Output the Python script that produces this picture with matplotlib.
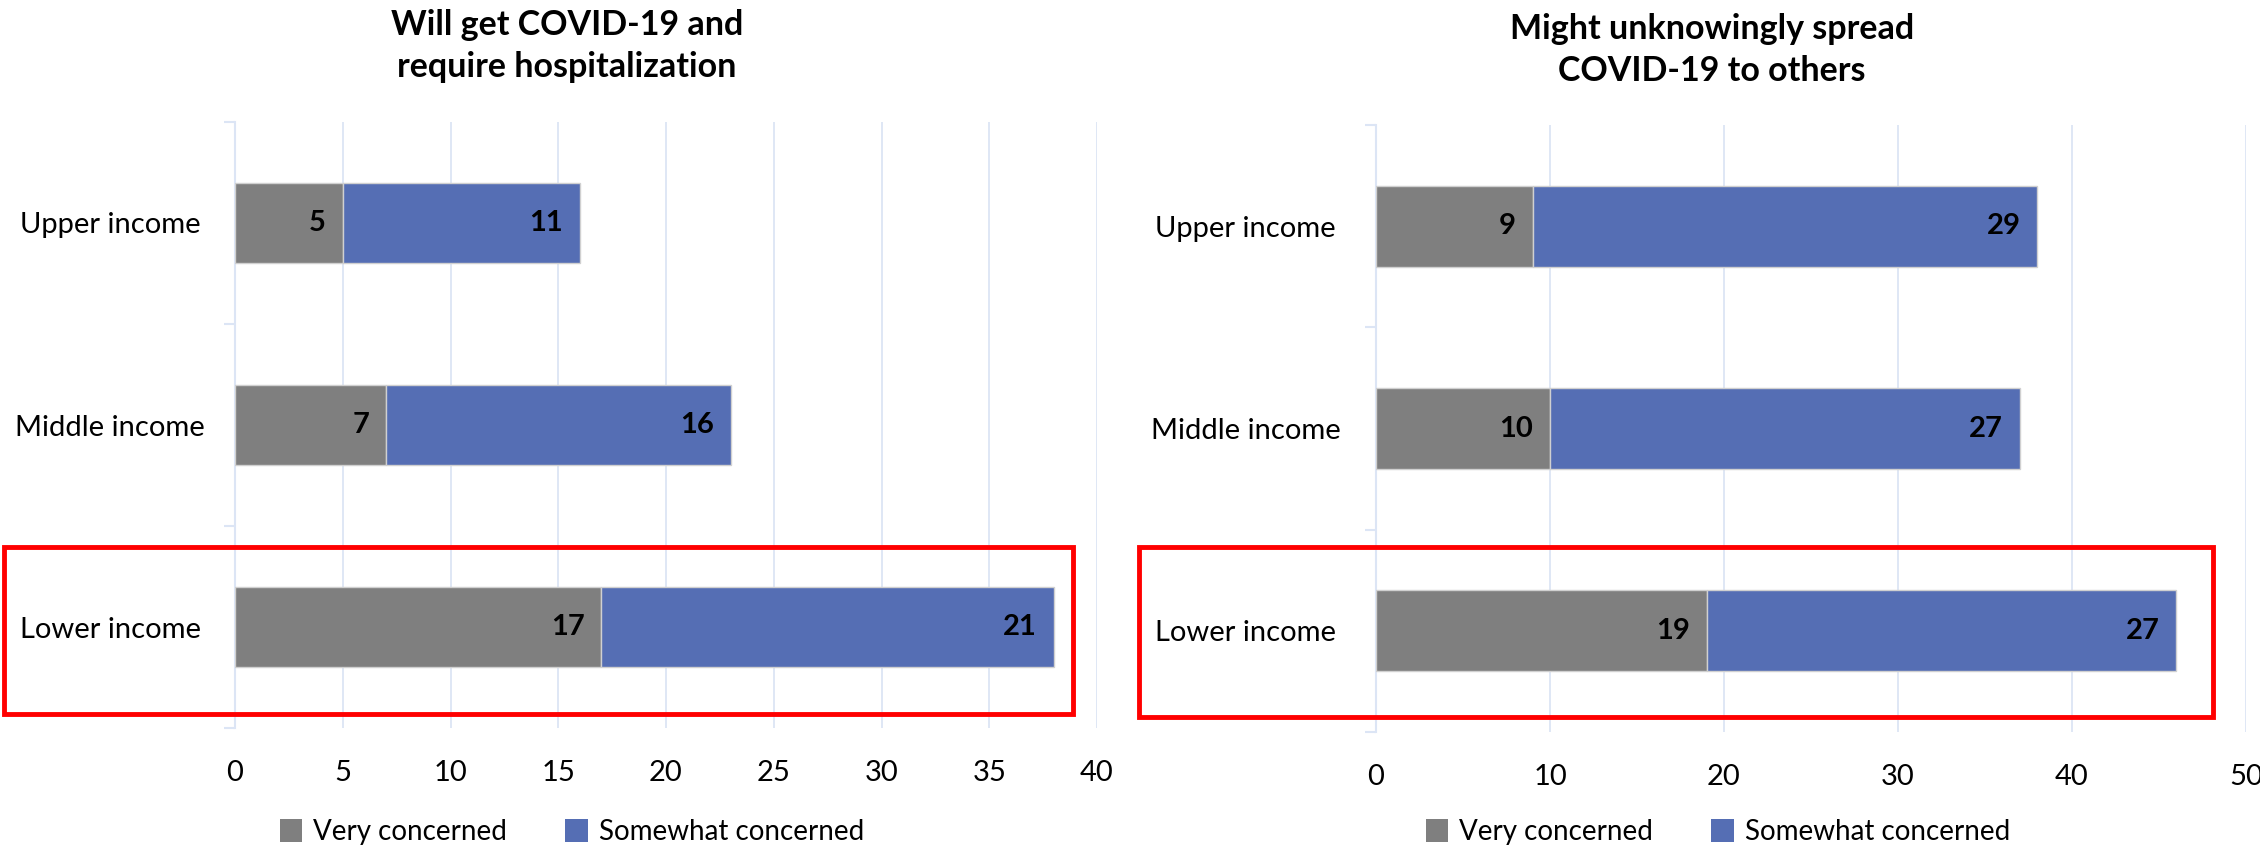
import matplotlib
matplotlib.use('Agg')
import matplotlib.pyplot as plt
from matplotlib.patches import Rectangle, Patch
import numpy as np

plt.rcParams['font.family'] = ['Lato', 'DejaVu Sans']

categories = ['Upper income', 'Middle income', 'Lower income']
legend_labels = ['Very concerned', 'Somewhat concerned']

hosp_title = 'Will get COVID-19 and\nrequire hospitalization'
hosp_very = [5, 7, 17]
hosp_somewhat = [11, 16, 21]
hosp_ticks = [0, 5, 10, 15, 20, 25, 30, 35, 40]

spread_title = 'Might unknowingly spread\nCOVID-19 to others'
spread_very = [9, 10, 19]
spread_somewhat = [29, 27, 27]
spread_ticks = [0, 10, 20, 30, 40, 50]

GRAY = '#7F7F7F'
BLUE = '#556EB4'
GRID = '#DCE5F5'
W, H = 2260, 851
fig = plt.figure(figsize=(W / 100, H / 100), dpi=100)


def fx(px):
    return px / W


def fy(py):
    return 1 - py / H


def panel(xpx, ypx, title, title_xy, very, somewhat, ticks, ylab_pad, legend_x, box):
    x0, x1 = xpx
    y0, y1 = ypx
    ax = fig.add_axes([fx(x0), fy(y1), (x1 - x0) / W, (y1 - y0) / H])
    y = np.arange(len(categories))
    ax.barh(y, very, height=0.4, color=GRAY, edgecolor='#D0D0D0', lw=1, zorder=3)
    ax.barh(y, somewhat, left=very, height=0.4, color=BLUE, edgecolor='#D0D0D0', lw=1, zorder=3)
    for lefts, vals in (([0] * len(very), very), (very, somewhat)):
        for yi, l, v in zip(y, lefts, vals):
            ax.annotate(str(v), xy=(l + v, yi), xytext=(-12, 0), textcoords='offset points',
                        ha='right', va='center', fontsize=21, fontweight='bold', zorder=4)
    ax.set_ylim(len(categories) - 0.5, -0.5)
    ax.set_xlim(ticks[0], ticks[-1])
    ax.set_xticks(ticks)
    ax.set_xticklabels([str(t) for t in ticks])
    ax.set_yticks(y)
    ax.set_yticklabels(categories, ha='center')
    ax.set_yticks(np.arange(-0.5, len(categories)), minor=True)
    ax.tick_params(axis='y', which='major', length=0, pad=ylab_pad, labelsize=21)
    ax.tick_params(axis='y', which='minor', length=8, color=GRID, width=1.5, direction='out')
    ax.tick_params(axis='x', length=0, pad=23, labelsize=21)
    ax.grid(axis='x', color=GRID, lw=1.3, zorder=0)
    ax.set_axisbelow(True)
    for s in ('top', 'right', 'bottom'):
        ax.spines[s].set_visible(False)
    ax.spines['left'].set_color(GRID)
    ax.spines['left'].set_linewidth(1.5)

    fig.text(fx(title_xy[0]), fy(title_xy[1]), title, ha='center', va='center',
             fontsize=24.5, fontweight='bold', linespacing=1.35)

    handles = [Patch(facecolor=GRAY, label=legend_labels[0]),
               Patch(facecolor=BLUE, label=legend_labels[1])]
    fig.legend(handles=handles, loc='center', bbox_to_anchor=(fx(legend_x), fy(832)),
               ncol=2, frameon=False, fontsize=20, handlelength=0.8, handleheight=0.9,
               handletextpad=0.4, columnspacing=2.1)

    bx0, by0, bx1, by1 = box
    fig.add_artist(Rectangle((fx(bx0), fy(by1)), (bx1 - bx0) / W, (by1 - by0) / H,
                             transform=fig.transFigure, fill=False, edgecolor='#FF0000',
                             lw=3.5, zorder=10))
    return ax


panel((235, 1097), (122, 728), hosp_title, (567, 46), hosp_very, hosp_somewhat, hosp_ticks,
      90, 572, (4, 547, 1073, 714))
panel((1376, 2246), (125, 732), spread_title, (1712, 50), spread_very, spread_somewhat,
      spread_ticks, 94, 1718, (1139, 547, 2213, 717))

fig.savefig('out.png', dpi=100, facecolor='white')
